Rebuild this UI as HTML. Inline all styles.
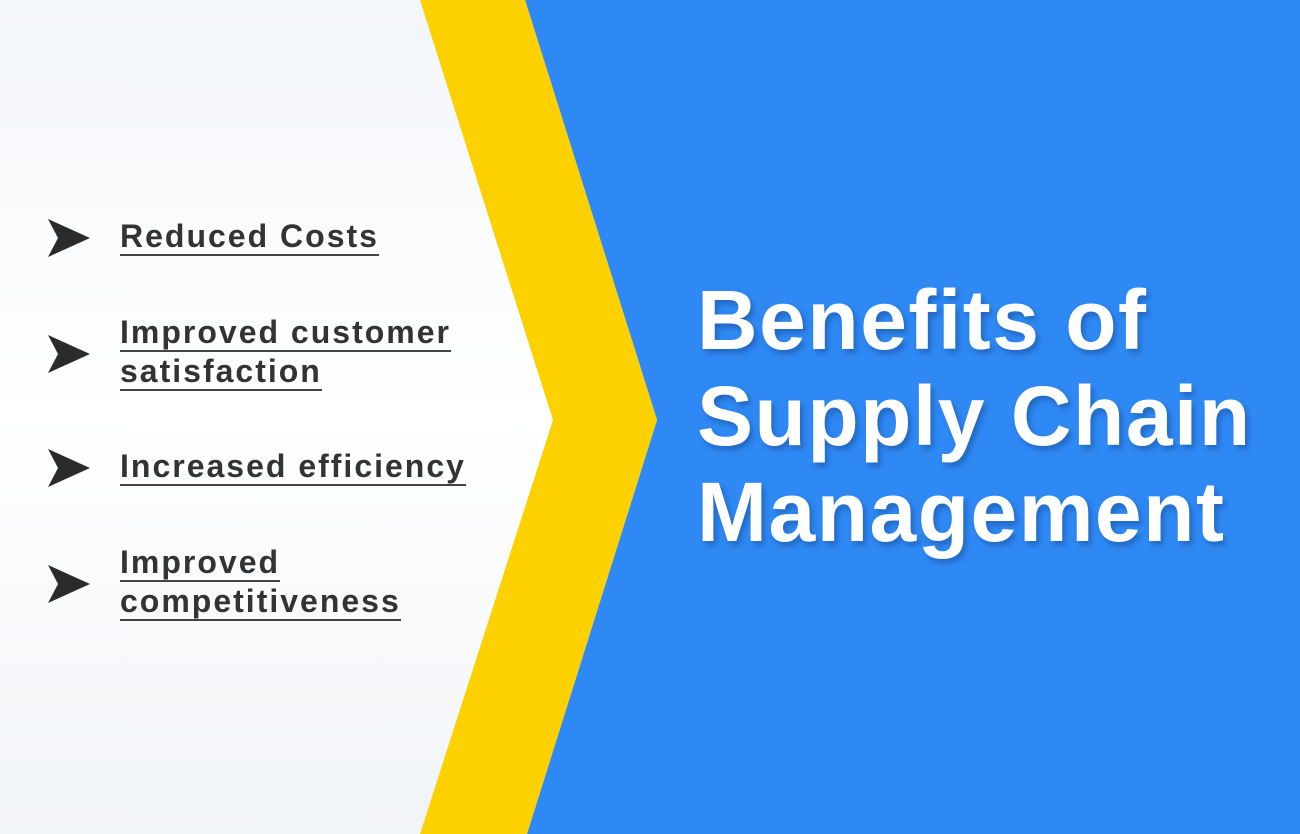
<!DOCTYPE html>
<html><head><meta charset="utf-8"><style>
html,body{margin:0;padding:0;width:1300px;height:834px;overflow:hidden;font-family:"Liberation Sans",sans-serif}
.item{position:absolute;left:120px;font-weight:bold;font-size:32px;letter-spacing:2px;color:#333;line-height:39px}
.item span{border-bottom:2px solid #444;padding-bottom:0}
.title{position:absolute;left:697px;top:272px;color:#fff;font-weight:bold;font-size:84px;letter-spacing:1.5px;line-height:96px;text-shadow:3px 4px 6px rgba(0,0,40,0.25);white-space:nowrap}
</style></head><body>
<svg width="1300" height="834" style="position:absolute;left:0;top:0">
<defs><linearGradient id="w" x1="0" y1="0" x2="0" y2="1"><stop offset="0" stop-color="#f3f6fa"/><stop offset="0.5" stop-color="#ffffff"/><stop offset="1" stop-color="#f1f4f8"/></linearGradient></defs>
<rect width="1300" height="834" fill="url(#w)"/>
<polygon points="525,0 1300,0 1300,834 527,834 657,420" fill="#2e89f5"/>
<polygon points="420,0 525,0 657,420 527,834 420,834 553,420" fill="#fdd000"/>
<g fill="#2b2b2b">
<polygon points="48,219 90,238 48,257 58,238"/>
<polygon points="48,335 90,354 48,373 58,354"/>
<polygon points="48,449 90,468 48,487 58,468"/>
<polygon points="48,565 90,584 48,603 58,584"/>
</g>
</svg>
<div class="item" style="top:217px"><span>Reduced Costs</span></div>
<div class="item" style="top:313px"><span>Improved customer</span><br><span>satisfaction</span></div>
<div class="item" style="top:447px"><span>Increased efficiency</span></div>
<div class="item" style="top:543px"><span>Improved</span><br><span>competitiveness</span></div>
<div class="title">Benefits of<br>Supply Chain<br>Management</div>
</body></html>
